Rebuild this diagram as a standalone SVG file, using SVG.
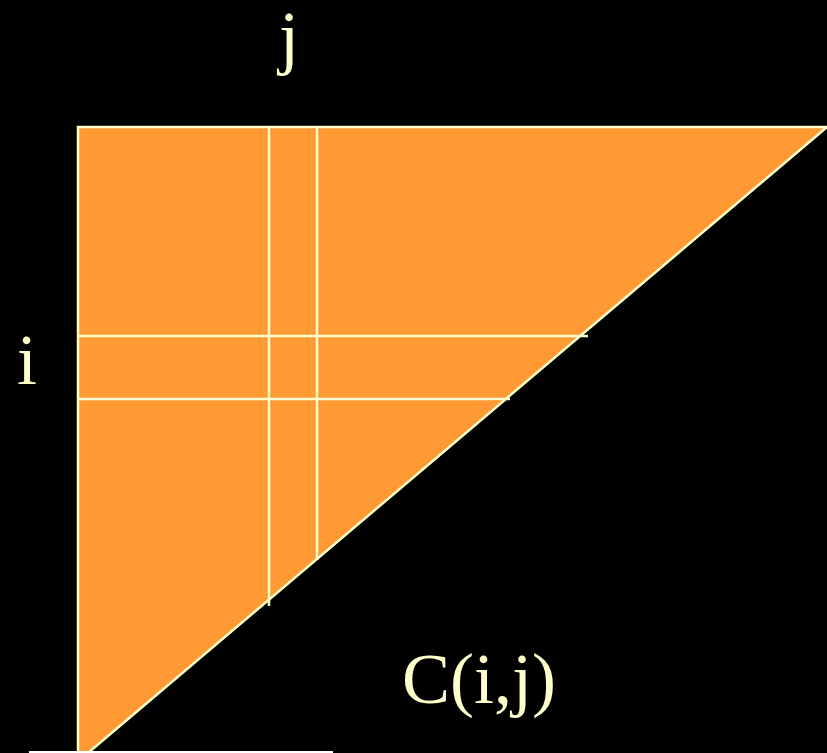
<svg xmlns="http://www.w3.org/2000/svg" width="827" height="753" viewBox="0 0 827 753">
<style>
.ln{stroke:#FFFFCC;stroke-width:2.5;fill:none}
.t{font-family:"Liberation Serif","Times New Roman",serif;fill:#FFFFCC;font-size:72px}
</style>
<rect x="0" y="0" width="827" height="753" fill="#000"/>
<g id="triangle">
<polygon points="78,127 827,127 88,753 78,753" fill="#FF9933" stroke="#FFFFCC" stroke-width="2.5"/>
</g>
<g id="connectors">
<line class="ln" x1="269" y1="127" x2="269" y2="606"/>
<line class="ln" x1="317" y1="127" x2="317" y2="560"/>
<line class="ln" x1="78" y1="336" x2="588" y2="336"/>
<line class="ln" x1="78" y1="399" x2="510" y2="399"/>
</g>
<rect x="29" y="751" width="304" height="2" fill="#FFFFFF"/>
<g id="label-j"><text class="t" x="289" y="61" text-anchor="middle">j</text></g>
<g id="label-i"><text class="t" x="27" y="384" text-anchor="middle">i</text></g>
<g id="label-C"><text class="t" x="402" y="703">C(i,j)</text></g>
</svg>
